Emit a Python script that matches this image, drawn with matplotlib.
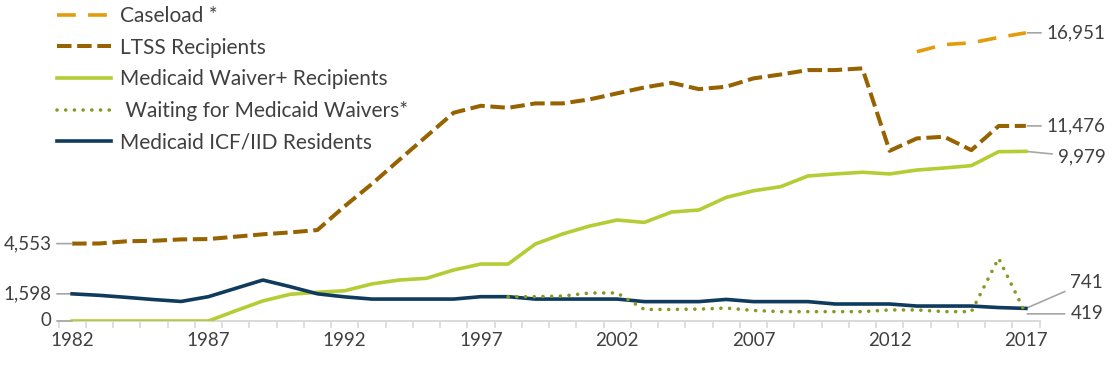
import numpy as np
import matplotlib
matplotlib.use("Agg")
import matplotlib.pyplot as plt

plt.rcParams['font.family'] = ['Lato', 'DejaVu Sans']

years = list(range(1982, 2018))
tick_years = [1982, 1987, 1992, 1997, 2002, 2007, 2012, 2017]

nan = np.nan
caseload = [nan] * 31 + [15840, 16260, 16360, 16680, 16951]
ltss = [4553, 4560, 4690, 4720, 4800, 4820, 4960, 5100, 5210, 5350,
        6750, 8060, 9470, 10860, 12250, 12660, 12540, 12800, 12800, 13040,
        13390, 13740, 14010, 13640, 13780, 14270, 14500, 14760, 14760, 14860,
        10010, 10740, 10840, 10050, 11470, 11476]
waiver = [0, 0, 0, 0, 0, 0, 600, 1180, 1570, 1690,
          1780, 2180, 2410, 2510, 3000, 3350, 3350, 4530, 5120, 5590,
          5940, 5800, 6410, 6530, 7270, 7660, 7900, 8530, 8650, 8750,
          8650, 8880, 9000, 9140, 9960, 9979]
waiting = [nan] * 16 + [1430, 1430, 1470, 1650, 1650, 680, 680, 700, 760, 620,
                        550, 550, 550, 550, 650, 650, 550, 550, 3690, 419]
icf = [1598, 1510, 1390, 1260, 1150, 1430, 1920, 2410, 2020, 1600,
       1420, 1290, 1290, 1290, 1290, 1430, 1430, 1290, 1290, 1290,
       1290, 1140, 1140, 1140, 1270, 1140, 1140, 1140, 1000, 1000,
       1000, 880, 880, 880, 790, 741]

text_color = '#404040'
lead_color = '#a6a6a6'

fig = plt.figure(figsize=(11.12, 3.65), dpi=100)
ax = fig.add_axes([58.5 / 1112, 44 / 365, 981 / 1112, 306 / 365])

x = np.arange(len(years))

# plot series (drawing order: back to front)
ax.plot(x, caseload, color='#E39C0E', lw=2.6, linestyle=(0, (5.2, 3.4)),
        dash_capstyle='butt', label='Caseload *', zorder=3)
ax.plot(x, ltss, color='#976200', lw=2.9, linestyle=(0, (3.6, 1.4)),
        dash_capstyle='butt', label='LTSS Recipients', zorder=3)
ax.plot(x, waiver, color='#B5CC34', lw=2.6, label='Medicaid Waiver+ Recipients',
        zorder=4, solid_joinstyle='round')
ax.plot(x, waiting, color='#849A22', lw=2.6, linestyle=(0, (0.01, 2.4)),
        dash_capstyle='round', label=' Waiting for Medicaid Waivers*', zorder=5)
ax.plot(x, icf, color='#0F3B5C', lw=2.6, label='Medicaid ICF/IID Residents',
        zorder=4, solid_joinstyle='round')

ax.set_xlim(-0.5, len(years) - 0.5)
ax.set_ylim(0, 18000)

for s in ['top', 'right', 'left']:
    ax.spines[s].set_visible(False)
ax.spines['bottom'].set_color('#d9d9d9')
ax.spines['bottom'].set_linewidth(1.4)
ax.set_yticks([])

ax.set_xticks([years.index(y) for y in tick_years])
ax.set_xticklabels([str(y) for y in tick_years], fontsize=13.5, color=text_color)
ax.tick_params(axis='x', which='major', length=0, pad=8)
ax.set_xticks(np.arange(-0.5, len(years), 1), minor=True)
ax.tick_params(axis='x', which='minor', length=5, width=1.2, color='#d9d9d9')

# left data labels
def left_label(val):
    ax.annotate(f"{val:,}", xy=(0, val), xytext=(-15, 0), textcoords='offset points',
                ha='right', va='center', fontsize=13.5, color=text_color,
                arrowprops=dict(arrowstyle='-', color=lead_color, lw=1.2,
                                shrinkA=2, shrinkB=0), annotation_clip=False)

left_label(ltss[0])
left_label(icf[0])
left_label(waiver[0])

# right data labels
def right_label(val, dx, dy):
    ax.annotate(f"{val:,}", xy=(len(years) - 1, val), xytext=(dx, dy),
                textcoords='offset points', ha='left', va='center', fontsize=13.5,
                color=text_color,
                arrowprops=dict(arrowstyle='-', color=lead_color, lw=1.2,
                                shrinkA=2, shrinkB=1), annotation_clip=False)

right_label(caseload[-1], 15, 0)
right_label(ltss[-1], 15, 0)
right_label(waiver[-1], 23, -4)
right_label(icf[-1], 32, 19)
right_label(waiting[-1], 32, 0)

leg = ax.legend(loc='upper left', bbox_to_anchor=(57 / 1112, 1 - 6 / 365),
                bbox_transform=fig.transFigure, frameon=False, fontsize=15,
                handlelength=2.6, handletextpad=0.4, labelspacing=0.56,
                borderpad=0, borderaxespad=0)
for t in leg.get_texts():
    t.set_color(text_color)

fig.savefig('out.png', dpi=100)
